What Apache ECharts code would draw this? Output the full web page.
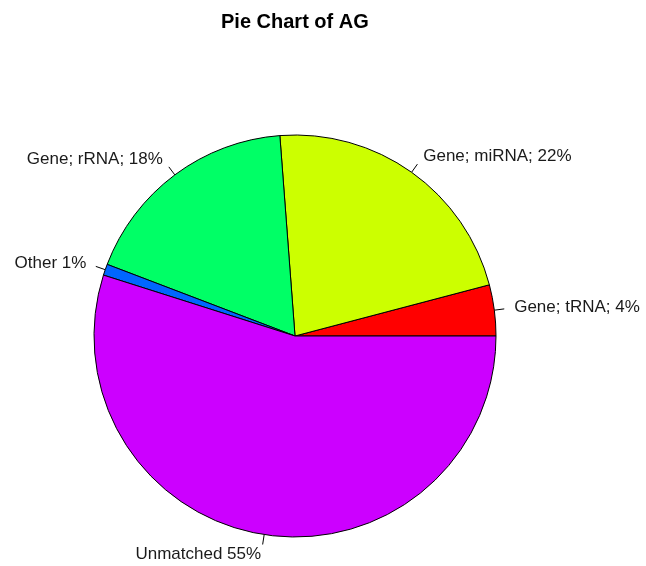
<!DOCTYPE html>
<html>
<head>
<meta charset="utf-8">
<script src="https://cdn.jsdelivr.net/npm/echarts@6/dist/echarts.min.js"></script>
<style>
html,body{margin:0;padding:0;background:#fff;}
#chart{width:646px;height:566px;}
</style>
</head>
<body>
<div id="chart"></div>
<script>
var categories = ['Gene; tRNA; 4%', 'Gene; miRNA; 22%', 'Gene; rRNA; 18%', 'Other 1%', 'Unmatched 55%'];
var values = [4.1, 22.1, 18.0, 0.9, 54.9];
var colors = ['#FF0000', '#CCFF00', '#00FF66', '#0066FF', '#CC00FF'];
var titleText = 'Pie Chart of AG';

var data = categories.map(function (c, i) { return { name: c, value: values[i] }; });
var FONT = '"Liberation Sans", Arial, Helvetica, sans-serif';

var chart = echarts.init(document.getElementById('chart'), null, { renderer: 'canvas' });
chart.setOption({
  backgroundColor: '#ffffff',
  animation: false,
  title: {
    text: titleText,
    left: 221,
    top: 12,
    padding: 0,
    textStyle: { fontFamily: FONT, fontSize: 20, fontWeight: 'bold', color: '#000' }
  },
  color: colors,
  series: [
    {
      type: 'pie',
      center: [295, 336],
      radius: 201,
      startAngle: 0,
      clockwise: false,
      avoidLabelOverlap: false,
      silent: true,
      emphasis: { disabled: true, scale: false },
      itemStyle: { borderColor: '#000', borderWidth: 1 },
      label: { show: true, position: 'outside', formatter: ' ', fontSize: 1, distanceToLabelLine: 0 },
      labelLine: { show: true, length: 10, length2: 0, smooth: false, lineStyle: { color: '#000', width: 1 } },
      data: data
    },
    {
      type: 'pie',
      center: [295, 336],
      radius: 201,
      startAngle: 0,
      clockwise: false,
      avoidLabelOverlap: false,
      silent: true,
      z: 3,
      emphasis: { disabled: true, scale: false },
      itemStyle: { color: 'rgba(0,0,0,0)', borderWidth: 0 },
      label: {
        show: true,
        position: 'outside',
        formatter: '{b}',
        distanceToLabelLine: 0,
        fontFamily: FONT,
        fontSize: 17,
        color: '#1a1a1a'
      },
      labelLine: { show: false, length: 20, length2: 0 },
      data: data
    }
  ]
});
</script>
</body>
</html>
